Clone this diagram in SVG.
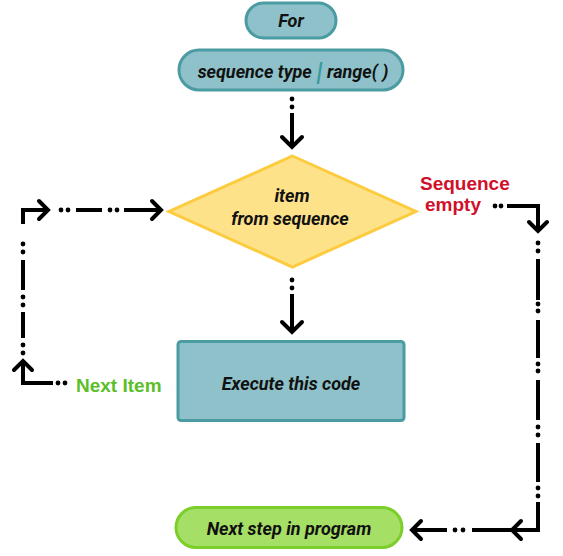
<svg xmlns="http://www.w3.org/2000/svg" width="563" height="556" viewBox="0 0 563 556">
<style>
.teal{fill:#8ec1c9;stroke:#4b9ba3;stroke-width:3}
.lbl{font-family:Roboto,"Liberation Sans",sans-serif;font-weight:700;font-style:italic;font-size:18px;fill:#111;text-anchor:middle;dominant-baseline:central}
.side{font-family:"Liberation Sans",Arial,sans-serif;font-weight:700;font-size:19px}
.ln{fill:none;stroke:#000;stroke-width:4;stroke-linecap:butt}
.ch{fill:none;stroke:#000;stroke-width:4;stroke-linecap:round;stroke-linejoin:miter}
.dot{fill:#000}
</style>
<rect width="563" height="556" fill="#fff"/>
<g id="for">
<rect class="teal" x="246" y="3" width="90" height="35" rx="17.5"/>
<text class="lbl" x="291" y="20.5" font-size="17.5">For</text>
</g>
<g id="sequence">
<rect class="teal" x="179" y="50" width="224" height="40" rx="20"/>
<text class="lbl" x="293" y="71" font-size="17.5">sequence type <tspan fill="#3a9aa0" font-size="26" font-weight="900">|</tspan> range( )</text>
</g>
<g id="decision">
<polygon points="292.5,156 416,211.5 292.5,267 169,211.5" fill="#fde28a" stroke="#fccb3e" stroke-width="3"/>
<text class="lbl" x="292" y="195" font-size="20">item</text>
<text class="lbl" x="290" y="218" font-size="20">from sequence</text>
</g>
<g id="execute">
<rect class="teal" x="178" y="341.5" width="226" height="79" rx="3"/>
<text class="lbl" x="291" y="383">Execute this code</text>
</g>
<g id="next-step">
<rect x="176" y="507.5" width="226" height="40" rx="20" fill="#a6df66" stroke="#7ccf2a" stroke-width="3"/>
<text class="lbl" x="289" y="528">Next step in program</text>
</g>
<g id="labels">
<text class="side" x="76" y="392" fill="#5cbf2a" font-size="20">Next Item</text>
<text class="side" x="420" y="190" fill="#d0102a">Sequence</text>
<text class="side" x="425" y="211" fill="#d0102a">empty</text>
</g>
<g id="connectors">
<circle class="dot" cx="292" cy="99" r="2.4"/><circle class="dot" cx="292" cy="107" r="2.4"/>
<path class="ln" d="M292 113V146"/>
<path class="ch" d="M282 137L292 147L302 137"/>
<circle class="dot" cx="292" cy="280" r="2.4"/><circle class="dot" cx="292" cy="288" r="2.4"/>
<path class="ln" d="M292 294V331"/>
<path class="ch" d="M282 322L292 332L302 322"/>
<circle class="dot" cx="65" cy="383" r="2.4"/><circle class="dot" cx="58" cy="383" r="2.4"/>
<path class="ln" d="M53 383H23V363"/>
<path class="ch" d="M14 370L23 361L32 370"/>
<circle class="dot" cx="23" cy="353" r="2.4"/><circle class="dot" cx="23" cy="345" r="2.4"/>
<path class="ln" d="M23 338V312"/>
<circle class="dot" cx="23" cy="305" r="2.4"/><circle class="dot" cx="23" cy="297" r="2.4"/>
<path class="ln" d="M23 290V260"/>
<circle class="dot" cx="23" cy="252" r="2.4"/><circle class="dot" cx="23" cy="244" r="2.4"/>
<path class="ln" d="M23 224V210H46"/>
<path class="ch" d="M39 201L48 210L39 219"/>
<circle class="dot" cx="61" cy="210" r="2.4"/><circle class="dot" cx="68" cy="210" r="2.4"/>
<path class="ln" d="M76 210H102"/>
<circle class="dot" cx="110" cy="210" r="2.4"/><circle class="dot" cx="117" cy="210" r="2.4"/>
<path class="ln" d="M124 210H160"/>
<path class="ch" d="M152 201L161 210L152 219"/>
<circle class="dot" cx="495" cy="206" r="2.4"/><circle class="dot" cx="501" cy="206" r="2.4"/>
<path class="ln" d="M507 206H538V230"/>
<path class="ch" d="M529 222L538 231L547 222"/>
<circle class="dot" cx="538" cy="243" r="2.4"/><circle class="dot" cx="538" cy="251" r="2.4"/>
<path class="ln" d="M538 259V300"/>
<circle class="dot" cx="538" cy="304" r="2.4"/><circle class="dot" cx="538" cy="311" r="2.4"/>
<path class="ln" d="M538 320V358"/>
<circle class="dot" cx="538" cy="364" r="2.4"/><circle class="dot" cx="538" cy="371" r="2.4"/>
<path class="ln" d="M538 380V420"/>
<circle class="dot" cx="538" cy="427" r="2.4"/><circle class="dot" cx="538" cy="435" r="2.4"/>
<path class="ln" d="M538 443V482"/>
<circle class="dot" cx="538" cy="488" r="2.4"/><circle class="dot" cx="538" cy="496" r="2.4"/>
<path class="ln" d="M538 502V530H472"/>
<path class="ch" d="M521 521L512 530L521 539"/>
<circle class="dot" cx="463" cy="530" r="2.4"/><circle class="dot" cx="455" cy="530" r="2.4"/>
<path class="ln" d="M447 530H414"/>
<path class="ch" d="M421 521L412 530L421 539"/>
</g>
</svg>
